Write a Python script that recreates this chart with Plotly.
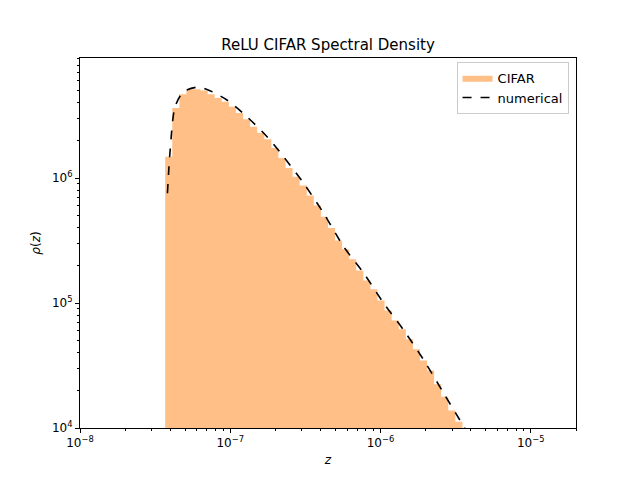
import numpy as np
import plotly.graph_objects as go

# histogram: log-spaced bin edges (log10 z) and bar heights (log10 rho)
bin_start = -7.433
bin_width = 0.0471
hist_log_heights = [6.17, 6.56, 6.67, 6.71, 6.71, 6.70, 6.67, 6.64, 6.61, 6.57,
                    6.52, 6.47, 6.41, 6.36, 6.31, 6.24, 6.16, 6.08, 6.01, 5.94,
                    5.86, 5.78, 5.69, 5.60, 5.50, 5.43, 5.35, 5.26, 5.18, 5.11,
                    5.02, 4.94, 4.86, 4.79, 4.71, 4.63, 4.54, 4.46, 4.35, 4.25,
                    4.14, 4.05]

# numerical curve (log10 z, log10 rho)
curve_logz = [-7.418, -7.40, -7.367, -7.311, -7.222, -7.155, -7.022, -6.889, -6.755,
              -6.645, -6.511, -6.378, -6.245, -6.111, -5.978, -5.845, -5.711, -5.578,
              -5.445, -5.40]
curve_logrho = [5.878, 6.222, 6.57, 6.69, 6.726, 6.709, 6.624, 6.49, 6.33,
                6.17, 5.957, 5.717, 5.45, 5.237, 4.997, 4.781, 4.541, 4.275,
                4.01, 3.92]

edges = 10 ** (bin_start + bin_width * np.arange(len(hist_log_heights) + 1))
heights = 10 ** np.array(hist_log_heights)
hx = [edges[0]]
hy = [1e3]
for i, h in enumerate(heights):
    hx += [edges[i], edges[i + 1]]
    hy += [h, h]
hx.append(edges[-1])
hy.append(1e3)

fig = go.Figure()
fig.add_trace(go.Scatter(x=hx, y=hy, mode="lines", fill="toself", fillcolor="#ffbf86",
                         line=dict(width=0), name="CIFAR"))
fig.add_trace(go.Scatter(x=10 ** np.array(curve_logz), y=10 ** np.array(curve_logrho),
                         mode="lines", line=dict(color="black", width=1.6, dash="dash",
                                                 shape="spline", smoothing=0.8),
                         name="numerical"))

minor_x = [m * 10.0 ** e for e in range(-8, -4) for m in range(2, 10)]
minor_y = [m * 10.0 ** e for e in range(4, 7) for m in range(2, 10)]
axis_common = dict(type="log", showgrid=False, zeroline=False, showline=True, linecolor="black",
                   mirror=True, ticks="outside", ticklen=4, tickcolor="black", automargin=False,
                   tickfont=dict(size=12, color="black"))

# page body has an 8px margin, so the margins are shifted to land the axes where the reference has them
fig.update_layout(
    width=640, height=480, plot_bgcolor="white", paper_bgcolor="white",
    margin=dict(l=72, r=72, t=50, b=60),
    font=dict(family="DejaVu Sans", color="black"),
    title=dict(text="ReLU CIFAR Spectral Density", x=0.5, xanchor="center", y=0.912,
               yanchor="bottom", font=dict(size=15)),
    xaxis=dict(axis_common, range=[-8, np.log10(2e-5)],
               tickvals=[1e-8, 1e-7, 1e-6, 1e-5],
               ticktext=["10<sup>−8</sup>", "10<sup>−7</sup>", "10<sup>−6</sup>", "10<sup>−5</sup>"],
               minor=dict(tickvals=minor_x, ticks="outside", ticklen=2, tickcolor="black"),
               title=dict(text="<i>z</i>", font=dict(size=12), standoff=6)),
    yaxis=dict(axis_common, range=[4, 6.96],
               tickvals=[1e4, 1e5, 1e6],
               ticktext=["10<sup>4</sup>", "10<sup>5</sup>", "10<sup>6</sup>"],
               minor=dict(tickvals=minor_y, ticks="outside", ticklen=2, tickcolor="black"),
               title=dict(text="<i>ρ</i>(<i>z</i>)", font=dict(size=12), standoff=8)),
    legend=dict(x=0.985, y=0.99, xanchor="right", yanchor="top", bgcolor="white",
                bordercolor="#cccccc", borderwidth=1, font=dict(size=13)),
    showlegend=True,
)

fig.write_html("out.html")
